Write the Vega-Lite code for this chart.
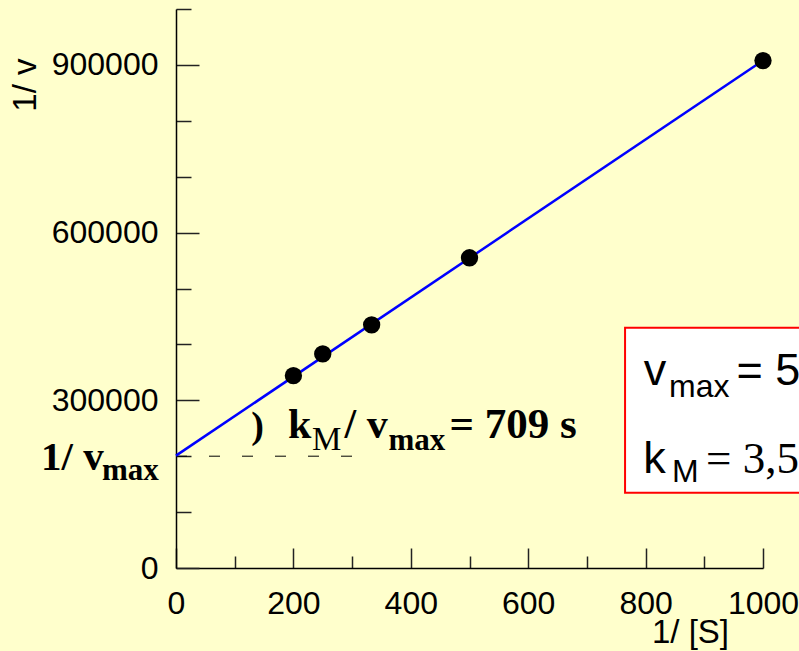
{
  "$schema": "https://vega.github.io/schema/vega-lite/v6.json",
  "width": 587,
  "height": 559,
  "autosize": {"type": "none"},
  "padding": {"left": 176, "top": 9, "right": 36, "bottom": 83},
  "background": "#FFFFCC",
  "config": {
    "view": {"stroke": null},
    "font": "Liberation Sans"
  },
  "layer": [
    {
      "data": {"values": [{"x": 0, "y": 200000}, {"x": 300, "y": 200000}]},
      "mark": {"type": "line", "color": "black", "strokeWidth": 1, "strokeDash": [11, 22]},
      "encoding": {
        "x": {"field": "x", "type": "quantitative"},
        "y": {"field": "y", "type": "quantitative"}
      }
    },
    {
      "data": {"values": [{"x": 0, "y": 201000}, {"x": 1000, "y": 908000}]},
      "mark": {"type": "line", "color": "#0000FF", "strokeWidth": 2.5},
      "encoding": {
        "x": {"field": "x", "type": "quantitative"},
        "y": {"field": "y", "type": "quantitative"}
      }
    },
    {
      "data": {"values": [
        {"S": 200, "v": 344000},
        {"S": 250, "v": 383000},
        {"S": 333.3, "v": 435000},
        {"S": 500, "v": 555000},
        {"S": 1000, "v": 907700}
      ]},
      "mark": {"type": "circle", "color": "black", "opacity": 1, "size": 300},
      "encoding": {
        "x": {
          "field": "S", "type": "quantitative",
          "scale": {"domain": [0, 1000], "nice": false, "zero": false},
          "axis": {
            "values": [0, 100, 200, 300, 400, 500, 600, 700, 800, 900, 1000],
            "labelExpr": "datum.value % 200 === 0 ? datum.label : ''",
            "format": "d",
            "grid": false,
            "domainColor": "black",
            "domainWidth": 1.5,
            "tickColor": "#222222",
            "tickWidth": 1.5,
            "tickSize": {"condition": {"test": "datum.value % 200 === 0", "value": -20}, "value": -12},
            "labelFont": "Liberation Sans",
            "labelFontSize": 32,
            "labelColor": "black",
            "labelBaseline": "alphabetic",
            "labelPadding": 65,
            "labelOverlap": false,
            "labelFlush": false,
            "title": "1/ [S]",
            "titleFont": "Liberation Sans",
            "titleFontSize": 33,
            "titleFontWeight": "normal",
            "titleColor": "black",
            "titleAnchor": null,
            "titleAlign": "center",
            "titleBaseline": "alphabetic",
            "titleX": 514,
            "titleY": 74
          }
        },
        "y": {
          "field": "v", "type": "quantitative",
          "scale": {"domain": [0, 1000000], "nice": false, "zero": false},
          "axis": {
            "values": [0, 100000, 200000, 300000, 400000, 500000, 600000, 700000, 800000, 900000, 1000000],
            "labelExpr": "datum.value % 300000 === 0 ? datum.label : ''",
            "format": "d",
            "grid": false,
            "domainColor": "black",
            "domainWidth": 1.5,
            "tickColor": "#222222",
            "tickWidth": 1.5,
            "tickSize": {"condition": {"test": "datum.value % 300000 === 0", "value": -23}, "value": -15},
            "labelFont": "Liberation Sans",
            "labelFontSize": 32,
            "labelColor": "black",
            "labelBaseline": "middle",
            "labelPadding": 41,
            "labelOverlap": false,
            "labelFlush": false,
            "title": "1/ v",
            "titleFont": "Liberation Sans",
            "titleFontSize": 33,
            "titleFontWeight": "normal",
            "titleColor": "black",
            "titleAnchor": null,
            "titleAngle": 270,
            "titleAlign": "right",
            "titleBaseline": "alphabetic",
            "titleX": -141,
            "titleY": 49
          }
        }
      }
    },
    {
      "data": {"values": [{}]},
      "mark": {"type": "rect", "fill": "white", "stroke": "#FF0000", "strokeWidth": 2, "clip": false},
      "encoding": {
        "x": {"datum": 765}, "x2": {"datum": 1150},
        "y": {"datum": 430000}, "y2": {"datum": 134700}
      }
    },
    {
      "data": {"values": [{"t": ")"}]},
      "mark": {"type": "text", "font": "Liberation Serif", "fontWeight": "bold", "fontSize": 38, "align": "left", "baseline": "alphabetic", "color": "black"},
      "encoding": {"x": {"datum": 128}, "y": {"datum": 232600}, "text": {"field": "t"}}
    },
    {
      "data": {"values": [{"t": "k"}]},
      "mark": {"type": "text", "font": "Liberation Serif", "fontWeight": "bold", "fontSize": 42, "align": "left", "baseline": "alphabetic", "color": "black"},
      "encoding": {"x": {"datum": 190.8}, "y": {"datum": 232600}, "text": {"field": "t"}}
    },
    {
      "data": {"values": [{"t": "M"}]},
      "mark": {"type": "text", "font": "Liberation Serif", "fontWeight": "normal", "fontSize": 33, "align": "left", "baseline": "alphabetic", "color": "black"},
      "encoding": {"x": {"datum": 231.7}, "y": {"datum": 211100}, "text": {"field": "t"}}
    },
    {
      "data": {"values": [{"t": "/ v"}]},
      "mark": {"type": "text", "font": "Liberation Serif", "fontWeight": "bold", "fontSize": 42, "align": "left", "baseline": "alphabetic", "color": "black"},
      "encoding": {"x": {"datum": 287}, "y": {"datum": 232600}, "text": {"field": "t"}}
    },
    {
      "data": {"values": [{"t": "max"}]},
      "mark": {"type": "text", "font": "Liberation Serif", "fontWeight": "bold", "fontSize": 31, "align": "left", "baseline": "alphabetic", "color": "black"},
      "encoding": {"x": {"datum": 362}, "y": {"datum": 211100}, "text": {"field": "t"}}
    },
    {
      "data": {"values": [{"t": "= 709 s"}]},
      "mark": {"type": "text", "font": "Liberation Serif", "fontWeight": "bold", "fontSize": 43, "align": "left", "baseline": "alphabetic", "color": "black"},
      "encoding": {"x": {"datum": 466}, "y": {"datum": 232600}, "text": {"field": "t"}}
    },
    {
      "data": {"values": [{"t": "1/ v"}]},
      "mark": {"type": "text", "font": "Liberation Serif", "fontWeight": "bold", "fontSize": 41, "align": "left", "baseline": "alphabetic", "color": "black"},
      "encoding": {"x": {"datum": -230}, "y": {"datum": 175300}, "text": {"field": "t"}}
    },
    {
      "data": {"values": [{"t": "max"}]},
      "mark": {"type": "text", "font": "Liberation Serif", "fontWeight": "bold", "fontSize": 31, "align": "left", "baseline": "alphabetic", "color": "black"},
      "encoding": {"x": {"datum": -126}, "y": {"datum": 157500}, "text": {"field": "t"}}
    },
    {
      "data": {"values": [{"t": "v"}]},
      "mark": {"type": "text", "font": "Liberation Sans", "fontSize": 45, "align": "left", "baseline": "alphabetic", "color": "black"},
      "encoding": {"x": {"datum": 797}, "y": {"datum": 327400}, "text": {"field": "t"}}
    },
    {
      "data": {"values": [{"t": "max"}]},
      "mark": {"type": "text", "font": "Liberation Sans", "fontSize": 32, "align": "left", "baseline": "alphabetic", "color": "black"},
      "encoding": {"x": {"datum": 840}, "y": {"datum": 306000}, "text": {"field": "t"}}
    },
    {
      "data": {"values": [{"t": "= 5"}]},
      "mark": {"type": "text", "font": "Liberation Sans", "fontSize": 45, "align": "left", "baseline": "alphabetic", "color": "black"},
      "encoding": {"x": {"datum": 955}, "y": {"datum": 327400}, "text": {"field": "t"}}
    },
    {
      "data": {"values": [{"t": "k"}]},
      "mark": {"type": "text", "font": "Liberation Sans", "fontSize": 45, "align": "left", "baseline": "alphabetic", "color": "black"},
      "encoding": {"x": {"datum": 796}, "y": {"datum": 170000}, "text": {"field": "t"}}
    },
    {
      "data": {"values": [{"t": "M"}]},
      "mark": {"type": "text", "font": "Liberation Sans", "fontSize": 32, "align": "left", "baseline": "alphabetic", "color": "black"},
      "encoding": {"x": {"datum": 845}, "y": {"datum": 153900}, "text": {"field": "t"}}
    },
    {
      "data": {"values": [{"t": "= 3,5"}]},
      "mark": {"type": "text", "font": "Liberation Serif", "fontSize": 45, "align": "left", "baseline": "alphabetic", "color": "black"},
      "encoding": {"x": {"datum": 903}, "y": {"datum": 170000}, "text": {"field": "t"}}
    }
  ]
}
